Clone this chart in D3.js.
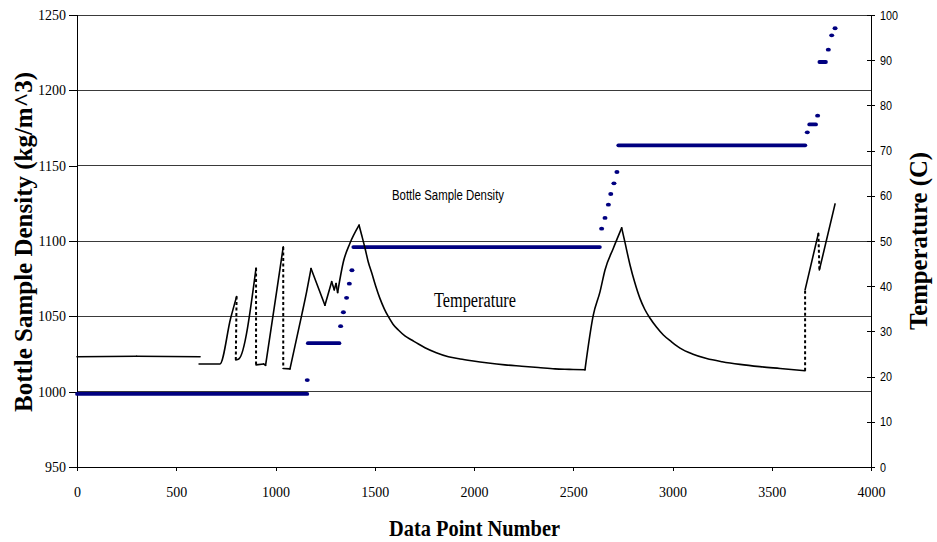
<!DOCTYPE html>
<html>
<head>
<meta charset="utf-8">
<script src="https://cdn.jsdelivr.net/npm/d3@7"></script>
<style>
  html, body { margin: 0; padding: 0; background: #fff; }
  svg { display: block; }
</style>
</head>
<body>
<svg id="chart" width="937" height="542"></svg>
<script>
// ---------------- DATA ----------------
// Left axis (density) tick labels
const densityTicks = [950, 1000, 1050, 1100, 1150, 1200, 1250];
// Right axis (temperature) tick labels
const tempTicks = [0, 10, 20, 30, 40, 50, 60, 70, 80, 90, 100];
// X axis tick labels
const xTicks = [0, 500, 1000, 1500, 2000, 2500, 3000, 3500, 4000];

// Bottle sample density: runs of constant value [startPoint, endPoint, density]
const densityRuns = [
  [0, 1160, 998.5],
  [1163, 1322, 1032.2],
  [1392, 2634, 1096.0],
  [2727, 3669, 1163.5],
  [3689, 3723, 1177.4],
  [3740, 3773, 1218.8]
];
// Bottle sample density: isolated points [pointNumber, density]
const densityPoints = [
  [1160, 1007.7], [1328, 1043.5], [1342, 1052.7], [1358, 1062.3], [1372, 1071.7], [1385, 1080.6],
  [2643, 1108.2], [2660, 1115.3], [2677, 1124.1], [2689, 1131.2], [2705, 1138.3], [2720, 1145.8],
  [3679, 1172.1], [3731, 1183.2], [3785, 1227.0], [3802, 1236.5], [3819, 1241.2]
];

// Temperature trace: point number, temperature (C), and how each point links to the previous one
// 's' = solid, 'd' = dashed jump, 'g' = gap
const tempN = [0, 300, 620, 615, 720, 774, 804, 800, 815, 902, 902, 940, 950, 1006, 1039, 1039, 1073, 1132, 1157, 1179,
  1249, 1283, 1296, 1305, 1313, 1342, 1375, 1421,
  1436, 1451, 1467, 1485, 1505, 1526, 1548, 1568, 1592, 1619, 1652, 1686, 1720, 1753, 1810, 1871, 1930, 1988, 2072, 2156, 2240, 2324, 2408, 2480, 2559,
  2601, 2635, 2660, 2702, 2744,
  2760, 2786, 2810, 2836, 2860, 2887, 2920, 2954, 2995, 3038, 3100, 3172, 3250, 3340, 3440, 3542, 3668,
  3668, 3735, 3740, 3819];
const tempC = [24.4, 24.5, 24.4, 22.8, 22.8, 32.9, 37.7, 23.7, 23.9, 44.0, 22.6, 22.8, 22.5, 38.9, 48.7, 21.8, 21.7, 33.6, 38.8, 43.9,
  35.8, 41.0, 39.2, 40.6, 38.6, 45.4, 49.5, 53.5,
  51.0, 48.4, 45.4, 42.9, 40.0, 37.3, 35.0, 33.3, 31.6, 30.3, 29.0, 28.1, 27.2, 26.4, 25.3, 24.4, 23.9, 23.5, 23.0, 22.6, 22.3, 22.0, 21.7, 21.6, 21.5,
  33.6, 38.8, 43.6, 48.4, 52.9,
  49.8, 44.7, 40.8, 37.3, 34.9, 32.9, 30.9, 29.2, 27.7, 26.3, 25.0, 24.0, 23.3, 22.7, 22.2, 21.8, 21.3,
  39.2, 51.7, 43.6, 58.2];
const tempLink = ['s', 's', 's', 'g', 's', 's', 's', 'd', 's', 's', 'd', 's', 's', 's', 's', 'd', 's', 's', 's', 's',
  's', 's', 's', 's', 's', 's', 's', 's',
  's', 's', 's', 's', 's', 's', 's', 's', 's', 's', 's', 's', 's', 's', 's', 's', 's', 's', 's', 's', 's', 's', 's', 's', 's',
  's', 's', 's', 's', 's',
  's', 's', 's', 's', 's', 's', 's', 's', 's', 's', 's', 's', 's', 's', 's', 's', 's',
  'd', 's', 'd', 's'];

// ---------------- LAYOUT ----------------
const svg = d3.select('#chart');
const L = 77, R = 871, T = 15, B = 467;
const serif = '"Liberation Serif", "Times New Roman", Times, serif';
const sans = '"Liberation Sans", Arial, Helvetica, sans-serif';
const navy = '#000080';

const x = d3.scaleLinear().domain([0, 4000]).range([L, R]);
const yL = d3.scaleLinear().domain([950, 1250]).range([B, T]);
const yR = d3.scaleLinear().domain([0, 100]).range([B, T]);

// gridlines
svg.append('g').selectAll('line')
  .data(densityTicks.filter(d => d > 950))
  .join('line')
  .attr('x1', L).attr('x2', R)
  .attr('y1', d => yL(d)).attr('y2', d => yL(d))
  .attr('stroke', '#3a3a3a').attr('stroke-width', 1).attr('shape-rendering', 'crispEdges');

// left axis
const gL = svg.append('g').attr('transform', `translate(${L},0)`)
  .call(d3.axisLeft(yL).tickValues(densityTicks).tickSize(8).tickPadding(3).tickFormat(d3.format('d')));
gL.attr('font-family', null);
gL.select('.domain').attr('stroke', '#000').attr('shape-rendering', 'crispEdges');
gL.selectAll('.tick line').attr('stroke', '#000').attr('shape-rendering', 'crispEdges');
gL.selectAll('.tick text').style('font-family', serif).style('font-size', '14px').attr('fill', '#000');

// bottom axis
const gB = svg.append('g').attr('transform', `translate(0,${B})`)
  .call(d3.axisBottom(x).tickValues(xTicks).tickSize(4).tickPadding(16).tickFormat(d3.format('d')));
gB.attr('font-family', null);
gB.select('.domain').attr('stroke', '#000').attr('shape-rendering', 'crispEdges');
gB.selectAll('.tick line').attr('stroke', '#000').attr('shape-rendering', 'crispEdges');
gB.selectAll('.tick text').style('font-family', serif).style('font-size', '14px').attr('fill', '#000');

// right axis
const gR = svg.append('g').attr('transform', `translate(${R},0)`)
  .call(d3.axisRight(yR).tickValues(tempTicks).tickSize(4).tickPadding(5).tickFormat(d3.format('d')));
gR.attr('font-family', null);
gR.select('.domain').attr('stroke', '#000').attr('shape-rendering', 'crispEdges');
gR.selectAll('.tick line').attr('x1', -4).attr('stroke', '#000').attr('shape-rendering', 'crispEdges');
gR.selectAll('.tick text').style('font-family', sans).style('font-size', '13px').attr('fill', '#000')
  .attr('x', 9)
  .attr('textLength', d => String(d).length * 6).attr('lengthAdjust', 'spacingAndGlyphs');
svg.selectAll('.domain').attr('fill', 'none');

// density runs and points
svg.append('g').selectAll('line')
  .data(densityRuns)
  .join('line')
  .attr('x1', d => x(d[0])).attr('x2', d => x(d[1]))
  .attr('y1', d => yL(d[2])).attr('y2', d => yL(d[2]))
  .attr('stroke', navy).attr('stroke-width', 3.8).attr('stroke-linecap', 'round');
svg.append('g').selectAll('ellipse')
  .data(densityPoints)
  .join('ellipse')
  .attr('cx', d => x(d[0])).attr('cy', d => yL(d[1]))
  .attr('rx', 2.5).attr('ry', 1.9)
  .attr('fill', navy);

// temperature trace
const tempData = tempN.map((n, i) => ({ n, c: tempC[i], link: tempLink[i] }));
const solidRuns = [];
let cur = [tempData[0]];
for (let i = 1; i < tempData.length; i++) {
  if (tempData[i].link === 's') { cur.push(tempData[i]); }
  else { solidRuns.push(cur); cur = [tempData[i]]; }
}
solidRuns.push(cur);
// split each run at its turning points so peaks stay sharp while slopes stay smooth
const pieces = [];
solidRuns.filter(r => r.length > 1).forEach(run => {
  let p = [run[0]];
  for (let i = 1; i < run.length; i++) {
    p.push(run[i]);
    if (i < run.length - 1) {
      const a = run[i].c - run[i - 1].c, b = run[i + 1].c - run[i].c;
      if (a * b < 0) { pieces.push(p); p = [run[i]]; }
    }
  }
  pieces.push(p);
});
const smooth = d3.line().x(d => x(d.n)).y(d => yR(d.c)).curve(d3.curveMonotoneX);
const straight = d3.line().x(d => x(d.n)).y(d => yR(d.c));
svg.append('g').selectAll('path')
  .data(pieces)
  .join('path')
  .attr('d', smooth)
  .attr('fill', 'none').attr('stroke', '#000').attr('stroke-width', 1.6)
  .attr('stroke-linejoin', 'round').attr('stroke-linecap', 'round');
const dashes = tempData.map((d, i) => i > 0 && d.link === 'd' ? [tempData[i - 1], d] : null).filter(Boolean);
svg.append('g').selectAll('path')
  .data(dashes)
  .join('path')
  .attr('d', straight)
  .attr('fill', 'none').attr('stroke', '#000').attr('stroke-width', 2)
  .attr('stroke-dasharray', '3,2.5');

// in-plot labels
svg.append('text').attr('x', 392).attr('y', 200)
  .style('font-family', sans).style('font-size', '14px').attr('fill', '#000')
  .attr('textLength', 112).attr('lengthAdjust', 'spacingAndGlyphs')
  .text('Bottle Sample Density');
svg.append('text').attr('x', 434).attr('y', 306.5)
  .style('font-family', serif).style('font-size', '20px').attr('fill', '#000')
  .attr('textLength', 82).attr('lengthAdjust', 'spacingAndGlyphs')
  .text('Temperature');

// axis titles
svg.append('text').attr('x', 474.5).attr('y', 536)
  .attr('text-anchor', 'middle')
  .style('font-family', serif).style('font-size', '24px').style('font-weight', 'bold').attr('fill', '#000')
  .attr('textLength', 171).attr('lengthAdjust', 'spacingAndGlyphs')
  .text('Data Point Number');
svg.append('text').attr('transform', 'translate(31.5,242) rotate(-90)')
  .attr('text-anchor', 'middle')
  .style('font-family', serif).style('font-size', '25px').style('font-weight', 'bold').attr('fill', '#000')
  .attr('textLength', 340).attr('lengthAdjust', 'spacingAndGlyphs')
  .text('Bottle Sample Density (kg/m^3)');
svg.append('text').attr('transform', 'translate(926.5,241) rotate(-90)')
  .attr('text-anchor', 'middle')
  .style('font-family', serif).style('font-size', '25px').style('font-weight', 'bold').attr('fill', '#000')
  .attr('textLength', 178).attr('lengthAdjust', 'spacingAndGlyphs')
  .text('Temperature (C)');
</script>
</body>
</html>
